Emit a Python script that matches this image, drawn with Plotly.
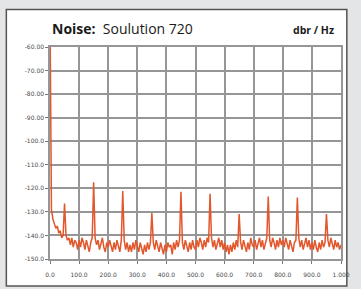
import plotly.graph_objects as go

freq_hz = list(range(0, 1001, 5))
level_dbr = [
    -45, -129, -133, -135, -137, -136, -139, -138, -141, -140,
    -126.4, -140, -142, -141, -144, -141, -145, -142, -143, -146,
    -142, -145, -141, -143, -146, -142, -144, -147, -143, -141,
    -117.4, -141, -144, -142, -146, -143, -141, -145, -147, -143,
    -145, -142, -144, -147, -143, -146, -142, -144, -147, -142,
    -121.1, -142, -146, -143, -147, -144, -147, -143, -146, -142,
    -144, -147, -143, -145, -148, -144, -147, -143, -146, -143,
    -130.5, -143, -146, -142, -144, -147, -143, -146, -148, -144,
    -147, -143, -145, -144, -148, -143, -146, -142, -145, -142,
    -121.5, -143, -146, -142, -144, -147, -143, -146, -142, -145,
    -146, -142, -145, -141, -143, -146, -142, -145, -141, -143,
    -122.3, -141, -145, -142, -146, -143, -141, -145, -142, -146,
    -143, -147, -144, -148, -144, -147, -143, -146, -142, -145,
    -130.9, -143, -146, -142, -145, -147, -143, -146, -141, -144,
    -145, -142, -146, -143, -141, -145, -142, -146, -143, -141,
    -123.5, -142, -145, -141, -143, -146, -142, -145, -141, -144,
    -142, -145, -141, -144, -146, -142, -145, -147, -143, -142,
    -123.9, -141, -145, -142, -146, -143, -141, -145, -142, -146,
    -143, -146, -142, -145, -147, -143, -146, -142, -145, -143,
    -130.9, -142, -145, -141, -144, -146, -142, -145, -143, -146,
    -144,
]

y_ticks = [-60, -70, -80, -90, -100, -110, -120, -130, -140, -150]
y_tick_text = ["-60.00", "-70.00", "-80.00", "-90.00", "-100.0", "-110.0",
               "-120.0", "-130.0", "-140.0", "-150.0"]
x_ticks = [0, 100, 200, 300, 400, 500, 600, 700, 800, 900, 1000]
x_tick_text = ["0.0", "100.0", "200.0", "300.0", "400.0", "500.0", "600.0",
               "700.0", "800.0", "900.0", "1.000"]

W, H = 361, 289
L, R, T, B = 50, 11, 47, 22
pw, ph = W - L - R, H - T - B

def px(x):
    return (x - L) / pw

def py(y):
    return (H - B - y) / ph

fig = go.Figure()
fig.add_trace(go.Scatter(
    x=freq_hz, y=level_dbr, mode="lines",
    line=dict(color="#e2572b", width=1.5),
    hoverinfo="skip", showlegend=False,
))

fig.add_shape(type="rect", xref="paper", yref="paper",
              x0=px(5), x1=px(356), y0=py(295), y1=py(8),
              fillcolor="white", line=dict(color="#555555", width=1.5),
              layer="below")

fig.add_annotation(xref="paper", yref="paper", x=px(50), y=py(28),
                   xanchor="left", yanchor="middle", showarrow=False,
                   text="<b>Noise:</b>  Soulution 720",
                   font=dict(family="Open Sans", size=14, color="#1a1a1a"))
fig.add_annotation(xref="paper", yref="paper", x=px(345), y=py(29),
                   xanchor="right", yanchor="middle", showarrow=False,
                   text="<b>dbr / Hz</b>",
                   font=dict(family="Open Sans", size=10.5, color="#1a1a1a"))

axis_common = dict(showgrid=True, gridcolor="#969696", gridwidth=1.5,
                   zeroline=False, showline=True, linecolor="#969696",
                   linewidth=1.5, ticks="outside", ticklen=3,
                   tickcolor="#777777",
                   tickfont=dict(family="DejaVu Sans", size=6, color="#4a4a4a"))

fig.update_xaxes(range=[0, 1000], tickvals=x_ticks, ticktext=x_tick_text,
                 mirror=True, ticklabelstandoff=6, **axis_common)
fig.update_yaxes(range=[-150, -60], tickvals=y_ticks, ticktext=y_tick_text,
                 mirror=True, **axis_common)

fig.update_layout(
    width=W, height=H,
    margin=dict(l=L, r=R, t=T, b=B),
    paper_bgcolor="#e4e5e6",
    plot_bgcolor="#fcfbfa",
)

fig.write_html(
    "out.html",
    config={"displayModeBar": False},
    post_script="document.body.style.margin='0';document.body.style.overflow='hidden';",
)
